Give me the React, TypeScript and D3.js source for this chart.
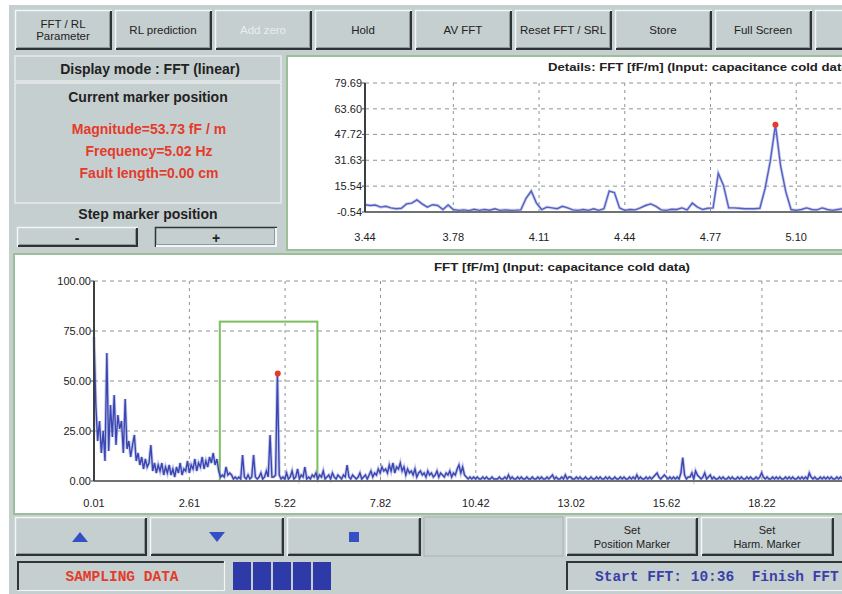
import React from 'react';
import * as d3 from 'd3';

const W = 842;
const H = 594;
const SANS = "'Liberation Sans', Arial, sans-serif";
const MONO = "'Liberation Mono', 'DejaVu Sans Mono', monospace";

const GUI = '#c5cfcf';
const RED = '#e33b2c';
const BLUE = '#3a46b2';
const GREEN_FRAME = '#9dbf98';

const toolbarLabels = [
  ['FFT / RL', 'Parameter'],
  ['RL prediction'],
  ['Add zero'],
  ['Hold'],
  ['AV FFT'],
  ['Reset FFT / SRL'],
  ['Store'],
  ['Full Screen'],
  [''],
];
const markerLines = ['Magnitude=53.73 fF / m', 'Frequency=5.02 Hz', 'Fault length=0.00 cm'];

// full spectrum, bins of 0.05 Hz starting at 0.01 Hz (one row = 1 Hz)
const overviewStart = 0.01;
const overviewStep = 0.05;
const overviewMag = [
  72, 38, 20, 30, 14, 25, 10, 64, 15, 38, 22, 43, 18, 33, 26, 30, 14, 41, 16, 20,
  12, 18, 23, 10, 14, 8, 12, 6, 11, 7, 9, 18, 5, 9, 4, 8, 5, 9, 3, 7,
  4, 8, 3, 6, 2, 7, 4, 9, 3, 6, 5, 10, 4, 8, 6, 11, 5, 9, 7, 12,
  6, 10, 7, 12, 9, 14, 8, 11, 5, 2, 3, 2, 7, 3, 4, 3, 1, 2, 1, 2,
  1, 13, 2, 1, 3, 1, 2, 13, 2, 1, 2, 4, 1, 2, 5, 2, 23, 2, 2, 3,
  53.73, 3, 1, 2, 1, 4, 1, 2, 5, 1, 2, 6, 1, 3, 2, 7, 1, 2, 1, 3,
  2, 4, 1, 3, 2, 5, 1, 2, 3, 1, 4, 2, 1, 3, 2, 1, 3, 2, 8, 2,
  1, 3, 2, 1, 2, 4, 1, 2, 3, 1, 3, 5, 2, 4, 3, 6, 4, 7, 5, 6,
  4, 8, 5, 9, 4, 7, 6, 9, 5, 7, 3, 6, 4, 5, 3, 6, 2, 4, 5, 3,
  4, 2, 5, 3, 4, 2, 3, 5, 2, 4, 3, 2, 4, 3, 5, 2, 4, 3, 6, 8,
  4, 7, 3, 2, 1, 2, 1, 2, 1, 2, 1, 1, 2, 1, 2, 1, 1, 2, 1, 1,
  1, 2, 1, 1, 2, 1, 3, 1, 2, 1, 1, 2, 1, 2, 1, 1, 2, 1, 1, 2,
  1, 1, 2, 1, 2, 1, 1, 2, 1, 2, 3, 1, 2, 1, 1, 2, 1, 3, 1, 2,
  2, 1, 1, 2, 1, 2, 1, 1, 2, 1, 1, 2, 1, 1, 2, 1, 2, 1, 1, 2,
  1, 2, 1, 1, 2, 1, 1, 2, 1, 2, 1, 1, 2, 1, 2, 1, 3, 1, 2, 1,
  1, 2, 1, 2, 1, 2, 3, 4, 2, 1, 2, 3, 2, 1, 2, 1, 2, 1, 2, 1,
  4, 11.7, 3, 1, 2, 2, 4, 1, 5, 3, 2, 1, 2, 4, 1, 2, 3, 1, 2, 1,
  1, 2, 1, 2, 1, 1, 2, 1, 2, 1, 1, 2, 1, 2, 1, 1, 2, 1, 2, 1,
  1, 2, 1, 2, 4, 2, 1, 2, 1, 1, 2, 1, 2, 1, 2, 1, 1, 2, 1, 2,
  1, 2, 1, 1, 2, 1, 2, 1, 2, 1, 4, 2, 1, 2, 1, 1, 2, 1, 2, 1,
  2, 1, 2, 1, 1, 2, 1, 2, 1, 2, 1, 1, 2, 1, 2, 1, 2, 1, 1, 2,
];

// zoomed detail, bins of 0.02 Hz starting at 3.44 Hz
const detailStart = 3.44;
const detailStep = 0.02;
const detailMag = [
  4.0, 3.5, 3.8, 2.5, 3.0, 2.0, 1.5, 1.8, 4.5, 5.0,
  7.0, 4.5, 2.5, 4.0, 3.5, 1.0, 3.8, 1.0, 0.5, 0.8,
  0.3, 1.2, 0.5, 1.0, 0.6, 1.5, 0.5, 0.8, 0.5, 0.6,
  0.8, 8.0, 12.5, 5.0, 1.0, 2.5, 2.0, 1.5, 3.0, 2.0,
  0.8, 0.5, 1.0, 0.5, 1.5, 0.5, 1.5, 12.5, 11.5, 2.0,
  0.5, 1.0, 0.8, 2.0, 3.5, 4.5, 3.0, 0.8, 0.5, 1.2,
  1.0, 2.0, 0.8, 5.0, 2.5, 1.0, 1.8, 2.0, 23.5, 16.0,
  2.0, 2.0, 1.8, 1.5, 1.5, 1.5, 1.8, 14.0, 31.0, 53.73,
  28.0, 12.0, 1.0, 0.5, 1.0, 2.0, 1.0, 0.8, 2.0, 1.0,
  0.5, 1.0, 1.5, 1.0, 1.2, 0.8, 1.5, 1.0, 0.6, 1.2,
];

const overviewTicks = [0.01, 2.61, 5.22, 7.82, 10.42, 13.02, 15.62, 18.22, 20.83];
const overviewYTicks = [0, 25, 50, 75, 100];
const detailTicks = [3.44, 3.78, 4.11, 4.44, 4.77, 5.1, 5.43, 5.77, 6.1];
const detailYTicks = [-0.54, 15.54, 31.63, 47.72, 63.6, 79.69];
const marker = { freq: 5.02, mag: 53.73 };
const zoomWindow = { f0: 3.44, f1: 6.1, m0: -0.54, m1: 79.69 };

type Pt = [number, number];

function Bevel(props: { x: number; y: number; w: number; h: number; pressed?: boolean }) {
  const { x, y, w, h, pressed } = props;
  const light = '#f3f6f6';
  const dark = '#2e3434';
  return (
    <g>
      <rect x={x} y={y} width={w} height={h} fill={GUI} />
      <path d={`M${x + 0.5},${y + h} V${y + 0.5} H${x + w}`} fill="none" stroke={pressed ? dark : light} strokeWidth={1.5} />
      <path d={`M${x + 1},${y + h - 1} H${x + w - 1} V${y + 1}`} fill="none" stroke={pressed ? light : dark} strokeWidth={2} />
      <path d={`M${x + 2},${y + h - 2.5} H${x + w - 2.5} V${y + 2}`} fill="none" stroke="#8e9999" strokeWidth={1} />
    </g>
  );
}

function Sunken(props: { x: number; y: number; w: number; h: number }) {
  const { x, y, w, h } = props;
  return (
    <g>
      <rect x={x} y={y} width={w} height={h} fill={GUI} />
      <path d={`M${x + 1},${y + h} V${y + 1} H${x + w}`} fill="none" stroke="#303636" strokeWidth={2} />
      <path d={`M${x},${y + h - 0.5} H${x + w - 0.5} V${y}`} fill="none" stroke="#f3f6f6" strokeWidth={1.2} />
    </g>
  );
}

export default function App() {
  const ox = d3.scaleLinear().domain([0.01, 20.83]).range([94, 857.7]);
  const oy = d3.scaleLinear().domain([0, 100]).range([481, 281]);
  const dx = d3.scaleLinear().domain([3.44, 6.1]).range([365, 1056]);
  const dy = d3.scaleLinear().domain([-0.54, 79.69]).range([212, 83]);

  const overview: Pt[] = overviewMag.map((m, i) => [overviewStart + i * overviewStep, m]);
  const detail: Pt[] = detailMag.map((m, i) => [detailStart + i * detailStep, m]);

  const oLine = d3.line<Pt>().x((d) => ox(d[0])).y((d) => oy(d[1]));
  const dLine = d3.line<Pt>().x((d) => dx(d[0])).y((d) => dy(d[1]));

  const grid = '#8f9494';
  // only labels that fit inside the window are drawn, as in the screenshot
  const visDetailTicks = detailTicks.filter((v) => dx(v) < W - 20);
  const visOverviewTicks = overviewTicks.filter((v) => ox(v) < W - 20);

  return (
    <svg width={W} height={H} style={{ position: 'absolute', left: 0, top: 0, background: '#fff' }} fontFamily={SANS}>
      <rect x={9} y={5} width={W - 9} height={H - 5} fill={GUI} />

      {/* toolbar */}
      {toolbarLabels.map((lab, i) => {
        const x = 15 + i * 100;
        return (
          <g key={i}>
            <Bevel x={x} y={10} w={97} h={40} />
            {lab.map((t, j) => (
              <text
                key={j}
                x={x + 48}
                y={lab.length === 1 ? 34 : 28 + j * 12}
                textAnchor="middle"
                fontSize={11.5}
                fill={i === 2 ? '#e9eeee' : '#1e2222'}
              >
                {t}
              </text>
            ))}
          </g>
        );
      })}

      {/* left info panel */}
      <rect x={15} y={56} width={266} height={25} fill="none" stroke="#eef2f2" strokeWidth={1.2} />
      <text x={150} y={74} textAnchor="middle" fontSize={14} fontWeight="bold" fill="#222">
        Display mode : FFT (linear)
      </text>
      <rect x={15} y={83} width={266} height={120} fill="none" stroke="#eef2f2" strokeWidth={1.2} />
      <text x={148} y={102} textAnchor="middle" fontSize={14} fontWeight="bold" fill="#222">
        Current marker position
      </text>
      {markerLines.map((t, i) => (
        <text key={t} x={149} y={134 + i * 22} textAnchor="middle" fontSize={14} fontWeight="bold" fill={RED}>
          {t}
        </text>
      ))}
      <text x={148} y={219} textAnchor="middle" fontSize={14} fontWeight="bold" fill="#222">
        Step marker position
      </text>
      <Bevel x={17} y={227} w={121} h={20} />
      <text x={77} y={243} textAnchor="middle" fontSize={14} fontWeight="bold" fill="#222">-</text>
      <Bevel x={155} y={227} w={122} h={20} pressed />
      <text x={216} y={243} textAnchor="middle" fontSize={14} fontWeight="bold" fill="#222">+</text>

      {/* detail chart */}
      <rect x={287} y={56} width={570} height={194} fill="#fff" stroke={GREEN_FRAME} strokeWidth={2} />
      <text x={548} y={71} fontSize={11} fontWeight="bold" fill="#222" textLength={305} lengthAdjust="spacingAndGlyphs">
        Details: FFT [fF/m] (Input: capacitance cold data)
      </text>
      {detailYTicks.slice(1).map((v) => (
        <line key={v} x1={dx(3.44)} x2={dx(6.1)} y1={dy(v)} y2={dy(v)} stroke={grid} strokeDasharray="4,4" />
      ))}
      {detailTicks.slice(1).map((v) => (
        <line key={v} x1={dx(v)} x2={dx(v)} y1={dy(79.69)} y2={dy(-0.54)} stroke={grid} strokeDasharray="3,4" />
      ))}
      <path d={dLine(detail) || ''} fill="none" stroke="#8a92d6" strokeWidth={3} opacity={0.45} />
      <path d={dLine(detail) || ''} fill="none" stroke="#5561c2" strokeWidth={1.4} />
      <line x1={dx(3.44)} x2={dx(6.1)} y1={dy(-0.54)} y2={dy(-0.54)} stroke="#6e7272" strokeWidth={2} />
      <line x1={dx(3.44)} x2={dx(3.44)} y1={dy(79.69)} y2={dy(-0.54)} stroke="#3c4040" strokeWidth={2} />
      {detailYTicks.map((v) => (
        <g key={v}>
          <line x1={dx(3.44) - 3} x2={dx(3.44)} y1={dy(v)} y2={dy(v)} stroke="#444" />
          <text x={dx(3.44) - 3} y={dy(v) + 4} textAnchor="end" fontSize={11} fill="#222">
            {v.toFixed(2)}
          </text>
        </g>
      ))}
      {visDetailTicks.map((v) => (
        <text key={v} x={dx(v)} y={241} textAnchor="middle" fontSize={11} fill="#222">
          {v.toFixed(2)}
        </text>
      ))}
      <circle cx={dx(marker.freq)} cy={dy(marker.mag)} r={3} fill="#e8392a" />

      {/* overview chart */}
      <rect x={14} y={254} width={840} height={260} fill="#fff" stroke={GREEN_FRAME} strokeWidth={2} />
      <text x={562} y={271} textAnchor="middle" fontSize={11} fontWeight="bold" fill="#222" textLength={256} lengthAdjust="spacingAndGlyphs">
        FFT [fF/m] (Input: capacitance cold data)
      </text>
      {overviewYTicks.slice(1).map((v) => (
        <line key={v} x1={ox(0.01)} x2={ox(20.83)} y1={oy(v)} y2={oy(v)} stroke={grid} strokeDasharray="4,4" />
      ))}
      {overviewTicks.slice(1).map((v) => (
        <line key={v} x1={ox(v)} x2={ox(v)} y1={oy(100)} y2={oy(0)} stroke={grid} strokeDasharray="3,4" />
      ))}
      <rect
        x={ox(zoomWindow.f0)}
        y={oy(zoomWindow.m1)}
        width={ox(zoomWindow.f1) - ox(zoomWindow.f0)}
        height={oy(0) - oy(zoomWindow.m1)}
        fill="none"
        stroke="#7cbf5c"
        strokeWidth={2}
      />
      <path d={oLine(overview) || ''} fill="none" stroke="#8088d0" strokeWidth={3.2} opacity={0.45} />
      <path d={oLine(overview) || ''} fill="none" stroke={BLUE} strokeWidth={1.4} />
      <line x1={ox(0.01)} x2={ox(20.83)} y1={oy(0)} y2={oy(0)} stroke="#6e7272" strokeWidth={2} />
      <line x1={ox(0.01)} x2={ox(0.01)} y1={oy(100)} y2={oy(0)} stroke="#3c4040" strokeWidth={2} />
      {overviewYTicks.map((v) => (
        <g key={v}>
          <line x1={ox(0.01) - 3} x2={ox(0.01)} y1={oy(v)} y2={oy(v)} stroke="#444" />
          <text x={ox(0.01) - 3} y={oy(v) + 4} textAnchor="end" fontSize={11} fill="#222">
            {v.toFixed(2)}
          </text>
        </g>
      ))}
      {visOverviewTicks.map((v) => (
        <text key={v} x={ox(v)} y={507} textAnchor="middle" fontSize={11} fill="#222">
          {v.toFixed(2)}
        </text>
      ))}
      <circle cx={ox(marker.freq)} cy={oy(marker.mag)} r={3} fill="#e8392a" />

      {/* navigation buttons */}
      <Bevel x={15} y={517} w={132} h={39} />
      <path d="M72,542 L88,542 L80,532 Z" fill="#3550c4" />
      <Bevel x={150} y={517} w={134} h={39} />
      <path d="M209,532 L225,532 L217,542 Z" fill="#3550c4" />
      <Bevel x={287} y={517} w={134} h={39} />
      <rect x={349} y={532} width={10} height={10} fill="#3550c4" />
      <rect x={424} y={517} width={139} height={39} fill={GUI} stroke="#aab4b4" />
      <Bevel x={566} y={517} w={132} h={39} />
      <text x={632} y={534} textAnchor="middle" fontSize={11} fill="#1e2222">Set</text>
      <text x={632} y={548} textAnchor="middle" fontSize={11} fill="#1e2222">Position Marker</text>
      <Bevel x={701} y={517} w={133} h={39} />
      <text x={767} y={534} textAnchor="middle" fontSize={11} fill="#1e2222">Set</text>
      <text x={767} y={548} textAnchor="middle" fontSize={11} fill="#1e2222">Harm. Marker</text>

      {/* status line */}
      <Sunken x={17} y={561} w={208} h={30} />
      <text x={122} y={581} textAnchor="middle" fontFamily={MONO} fontSize={14.5} fontWeight="bold" fill={RED}>
        SAMPLING DATA
      </text>
      {[0, 1, 2, 3, 4].map((i) => (
        <rect key={i} x={233 + i * 20} y={562} width={18} height={28} fill="#2d3aa8" />
      ))}
      <Sunken x={566} y={561} w={290} h={30} />
      <text x={595} y={581} fontFamily={MONO} fontSize={14.5} fontWeight="bold" fill="#3a40a8" style={{ whiteSpace: 'pre' }}>
        {'Start FFT: 10:36  Finish FFT'}
      </text>
    </svg>
  );
}
